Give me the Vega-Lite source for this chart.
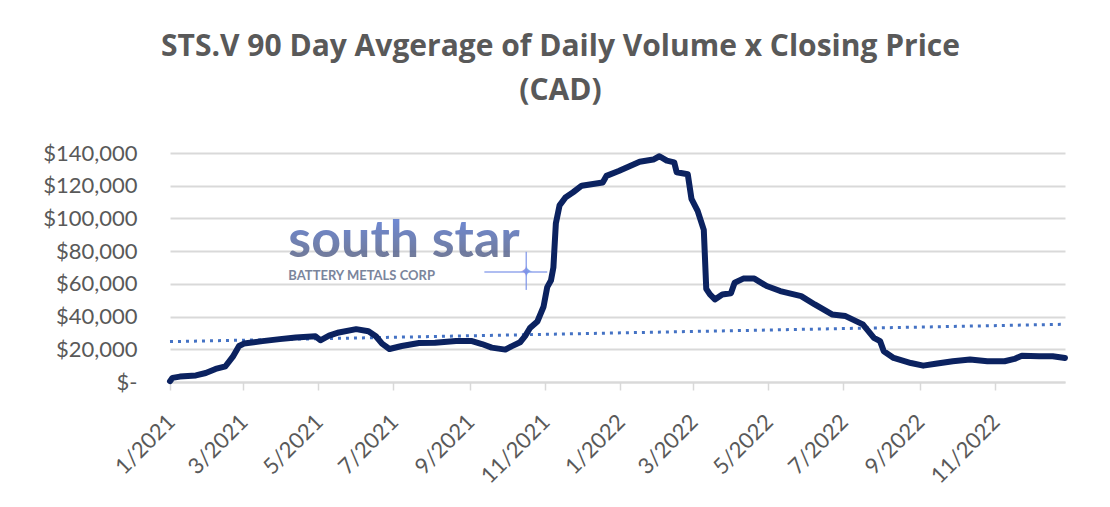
{
  "$schema": "https://vega.github.io/schema/vega-lite/v6.json",
  "width": 895,
  "height": 229,
  "autosize": "none",
  "padding": {"left": 170, "top": 153, "right": 45, "bottom": 125},
  "background": "white",
  "config": {"view": {"stroke": null}, "font": "Lato"},
  "title": {
    "text": ["STS.V 90 Day Avgerage of Daily Volume x Closing Price", "(CAD)"],
    "anchor": "middle",
    "frame": "group",
    "dx": -57,
    "fontSize": 30,
    "fontWeight": "bold",
    "color": "#595959",
    "font": "Open Sans",
    "lineHeight": 44,
    "offset": 36
  },
  "datasets": {
    "avg": [
      {"date": "2021-01-01", "value": 500},
      {"date": "2021-01-03", "value": 2500},
      {"date": "2021-01-09", "value": 3300},
      {"date": "2021-01-22", "value": 4000},
      {"date": "2021-01-30", "value": 5500},
      {"date": "2021-02-07", "value": 8000},
      {"date": "2021-02-15", "value": 9600},
      {"date": "2021-02-21", "value": 15500},
      {"date": "2021-02-26", "value": 22000},
      {"date": "2021-03-02", "value": 23500},
      {"date": "2021-03-17", "value": 25000},
      {"date": "2021-03-31", "value": 26200},
      {"date": "2021-04-13", "value": 27200},
      {"date": "2021-04-29", "value": 28000},
      {"date": "2021-05-03", "value": 25500},
      {"date": "2021-05-10", "value": 28300},
      {"date": "2021-05-18", "value": 30300},
      {"date": "2021-06-01", "value": 32300},
      {"date": "2021-06-11", "value": 31000},
      {"date": "2021-06-17", "value": 28000},
      {"date": "2021-06-22", "value": 23500},
      {"date": "2021-06-28", "value": 20200},
      {"date": "2021-07-08", "value": 22000},
      {"date": "2021-07-22", "value": 23800},
      {"date": "2021-08-04", "value": 24000},
      {"date": "2021-08-21", "value": 25000},
      {"date": "2021-09-03", "value": 25000},
      {"date": "2021-09-11", "value": 23200},
      {"date": "2021-09-19", "value": 21000},
      {"date": "2021-09-30", "value": 19800},
      {"date": "2021-10-05", "value": 21800},
      {"date": "2021-10-12", "value": 24300},
      {"date": "2021-10-16", "value": 28000},
      {"date": "2021-10-20", "value": 33000},
      {"date": "2021-10-26", "value": 37000},
      {"date": "2021-10-31", "value": 46000},
      {"date": "2021-11-03", "value": 58000},
      {"date": "2021-11-06", "value": 62000},
      {"date": "2021-11-08", "value": 70000},
      {"date": "2021-11-10", "value": 97000},
      {"date": "2021-11-13", "value": 108000},
      {"date": "2021-11-18", "value": 113000},
      {"date": "2021-11-24", "value": 116000},
      {"date": "2021-12-01", "value": 120000},
      {"date": "2021-12-18", "value": 122000},
      {"date": "2021-12-21", "value": 126000},
      {"date": "2021-12-31", "value": 129000},
      {"date": "2022-01-17", "value": 134700},
      {"date": "2022-01-28", "value": 136000},
      {"date": "2022-02-02", "value": 138000},
      {"date": "2022-02-08", "value": 135300},
      {"date": "2022-02-14", "value": 134300},
      {"date": "2022-02-16", "value": 128200},
      {"date": "2022-02-25", "value": 127000},
      {"date": "2022-02-28", "value": 112000},
      {"date": "2022-03-05", "value": 104600},
      {"date": "2022-03-10", "value": 93000},
      {"date": "2022-03-12", "value": 57000},
      {"date": "2022-03-15", "value": 53500},
      {"date": "2022-03-19", "value": 50500},
      {"date": "2022-03-25", "value": 53500},
      {"date": "2022-04-01", "value": 54200},
      {"date": "2022-04-04", "value": 60700},
      {"date": "2022-04-11", "value": 63200},
      {"date": "2022-04-20", "value": 63200},
      {"date": "2022-04-30", "value": 58700},
      {"date": "2022-05-11", "value": 55600},
      {"date": "2022-05-28", "value": 52500},
      {"date": "2022-06-08", "value": 47400},
      {"date": "2022-06-22", "value": 41300},
      {"date": "2022-07-03", "value": 40300},
      {"date": "2022-07-17", "value": 35200},
      {"date": "2022-07-26", "value": 27000},
      {"date": "2022-07-31", "value": 25000},
      {"date": "2022-08-03", "value": 18800},
      {"date": "2022-08-11", "value": 14700},
      {"date": "2022-08-25", "value": 11600},
      {"date": "2022-09-04", "value": 10000},
      {"date": "2022-09-14", "value": 11200},
      {"date": "2022-09-28", "value": 12700},
      {"date": "2022-10-12", "value": 13700},
      {"date": "2022-10-26", "value": 12700},
      {"date": "2022-11-09", "value": 12700},
      {"date": "2022-11-17", "value": 14100},
      {"date": "2022-11-23", "value": 16100},
      {"date": "2022-12-07", "value": 15700},
      {"date": "2022-12-18", "value": 15700},
      {"date": "2022-12-28", "value": 14700}
    ],
    "trend": [
      {"date": "2021-01-01", "value": 24700},
      {"date": "2022-12-28", "value": 35300}
    ],
    "one": [{}]
  },
  "layer": [
    {
      "data": {"name": "avg"},
      "mark": {"type": "line", "color": "#0b2260", "strokeWidth": 5.5, "opacity": 0},
      "encoding": {
        "x": {
          "field": "date", "type": "temporal",
          "scale": {"type": "utc", "nice": false,
            "domain": [{"year": 2021, "month": 1, "date": 1, "utc": true}, {"year": 2022, "month": 12, "date": 28, "utc": true}]},
          "axis": {
            "title": null,
            "values": [
              {"year": 2021, "month": 1, "date": 1, "utc": true},
              {"year": 2021, "month": 3, "date": 1, "utc": true},
              {"year": 2021, "month": 5, "date": 1, "utc": true},
              {"year": 2021, "month": 7, "date": 1, "utc": true},
              {"year": 2021, "month": 9, "date": 1, "utc": true},
              {"year": 2021, "month": 11, "date": 1, "utc": true},
              {"year": 2022, "month": 1, "date": 1, "utc": true},
              {"year": 2022, "month": 3, "date": 1, "utc": true},
              {"year": 2022, "month": 5, "date": 1, "utc": true},
              {"year": 2022, "month": 7, "date": 1, "utc": true},
              {"year": 2022, "month": 9, "date": 1, "utc": true},
              {"year": 2022, "month": 11, "date": 1, "utc": true}
            ],
            "tickCount": 30,
            "labelExpr": "utcFormat(datum.value, '%-m/%Y')",
            "labelAngle": -45,
            "labelFontSize": 22,
            "labelColor": "#595959",
            "labelPadding": 21,
            "labelOffset": -6,
            "tickSize": 8,
            "tickColor": "#d9d9d9",
            "tickWidth": 1.5,
            "domainColor": "#d9d9d9",
            "domainWidth": 2,
            "grid": false,
            "labelOverlap": false
          }
        },
        "y": {
          "field": "value", "type": "quantitative",
          "scale": {"domain": [0, 140000], "nice": false},
          "axis": {
            "title": null,
            "values": [0, 20000, 40000, 60000, 80000, 100000, 120000, 140000],
            "tickCount": 20,
            "labelExpr": "datum.value == 0 ? '$-' : '$' + format(datum.value, ',')",
            "labelFontSize": 22,
            "labelColor": "#595959",
            "labelPadding": 33,
            "labelOverlap": false,
            "ticks": false,
            "domain": false,
            "gridColor": "#d9d9d9",
            "gridWidth": 2
          }
        }
      }
    },
    {
      "data": {"name": "one"},
      "mark": {"type": "text", "text": "south star", "align": "left", "baseline": "alphabetic", "font": "Lato", "fontWeight": "bold", "fontSize": 52, "opacity": 0.88,
        "color": {"gradient": "linear", "x1": 0, "y1": 0, "x2": 0, "y2": 1, "stops": [{"offset": 0, "color": "#5a7fe6"}, {"offset": 1, "color": "#60657a"}]}},
      "encoding": {
        "x": {"datum": {"year": 2021, "month": 4, "date": 7, "utc": true}, "type": "temporal"},
        "y": {"datum": 76600, "type": "quantitative"}
      }
    },
    {
      "data": {"name": "one"},
      "mark": {"type": "text", "text": "BATTERY METALS CORP", "align": "left", "baseline": "alphabetic", "font": "Lato", "fontWeight": "bold", "fontSize": 13, "color": "#6d7892", "opacity": 0.9},
      "encoding": {
        "x": {"datum": {"year": 2021, "month": 4, "date": 7, "utc": true}, "type": "temporal"},
        "y": {"datum": 62500, "type": "quantitative"}
      }
    },
    {
      "data": {"name": "one"},
      "mark": {"type": "rule", "color": "#7b92e8", "strokeWidth": 1.5, "opacity": 0.8},
      "encoding": {
        "x": {"datum": {"year": 2021, "month": 9, "date": 13, "utc": true}, "type": "temporal"},
        "x2": {"datum": {"year": 2021, "month": 11, "date": 3, "utc": true}},
        "y": {"datum": 67300, "type": "quantitative"}
      }
    },
    {
      "data": {"name": "one"},
      "mark": {"type": "rule", "color": "#7b92e8", "strokeWidth": 1.5, "opacity": 0.8},
      "encoding": {
        "x": {"datum": {"year": 2021, "month": 10, "date": 17, "utc": true}, "type": "temporal"},
        "y": {"datum": 79600, "type": "quantitative"},
        "y2": {"datum": 56300}
      }
    },
    {
      "data": {"name": "one"},
      "mark": {"type": "text", "text": "✦", "font": "DejaVu Sans", "fontSize": 16, "color": "#7b92e8", "align": "center", "baseline": "middle", "opacity": 0.9},
      "encoding": {
        "x": {"datum": {"year": 2021, "month": 10, "date": 17, "utc": true}, "type": "temporal"},
        "y": {"datum": 67300, "type": "quantitative"}
      }
    },
    {
      "data": {"name": "trend"},
      "mark": {"type": "line", "color": "#4472c4", "strokeWidth": 3, "strokeDash": [3, 5]},
      "encoding": {
        "x": {"field": "date", "type": "temporal"},
        "y": {"field": "value", "type": "quantitative"}
      }
    },
    {
      "data": {"name": "avg"},
      "mark": {"type": "line", "color": "#0b2260", "strokeWidth": 6, "strokeJoin": "round", "strokeCap": "round"},
      "encoding": {
        "x": {"field": "date", "type": "temporal"},
        "y": {"field": "value", "type": "quantitative"}
      }
    }
  ]
}
